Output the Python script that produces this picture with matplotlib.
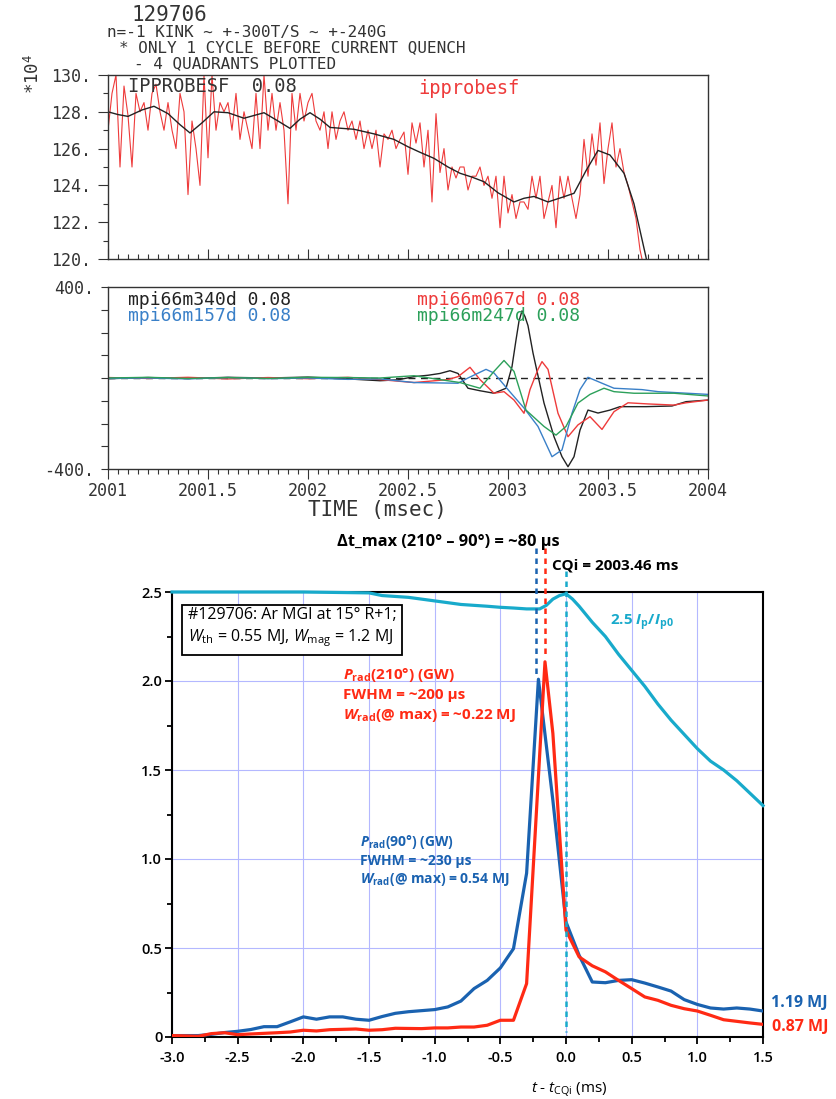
# Shot 129706: IPPROBESF, Mirnov probes and Prad vs time
import numpy as np
import matplotlib.pyplot as plt
from matplotlib.ticker import MultipleLocator

plt.rcParams['mathtext.fontset'] = 'custom'
plt.rcParams['mathtext.rm'] = 'Open Sans'
plt.rcParams['mathtext.it'] = 'Open Sans:italic'
plt.rcParams['mathtext.bf'] = 'Open Sans:bold'
plt.rcParams['mathtext.bfit'] = 'Open Sans:italic:bold'
plt.rcParams['mathtext.tt'] = 'DejaVu Sans Mono'

# ---- data: plasma current probe (x 10^4), sampled every 0.02 ms from 2001.00
ip_raw = [
    127.0, 129.0, 130.0, 125.0, 129.4, 127.8, 125.0, 129.0, 128.0, 128.5,
    127.0, 129.0, 129.5, 128.0, 127.0, 128.5, 127.0, 126.0, 129.0, 128.0,
    123.5, 127.5, 126.0, 124.0, 130.0, 125.5, 130.0, 127.0, 128.5, 128.0,
    128.5, 127.0, 129.0, 126.5, 128.0, 127.0, 126.0, 129.0, 126.0, 130.0,
    127.0, 129.0, 127.0, 128.5, 127.0, 123.0, 129.0, 127.0, 129.0, 127.5,
    128.5, 129.0, 127.5, 127.0, 128.0, 126.0, 128.0, 126.5, 127.5, 128.0,
    127.0, 127.5, 126.5, 127.5, 126.0, 127.0, 126.0, 127.0, 125.0, 126.8,
    126.5, 127.0, 126.0,
    126.5, 126.9, 124.6, 127.4, 126.3, 127.4, 125.0, 127.0, 123.1, 127.9,
    124.7, 126.0, 123.75, 125.0, 124.4, 125.0, 125.0, 123.75, 124.5, 124.5,
    125.0, 124.0, 124.5, 123.3, 124.5, 121.7, 124.5, 122.5, 123.5, 122.2,
    123.1, 123.1, 122.7, 124.5, 123.3, 124.5, 122.2, 123.1, 124.0, 121.7,
    124.5, 123.3, 124.5, 123.3, 122.2, 123.5, 126.5, 124.5, 126.8, 125.1,
    127.4, 124.1, 126.0, 127.4, 125.0, 126.0, 124.7, 124.0, 123.1, 122.2,
    120.5, 119.5,
]
ip_t = 2001.0 + 0.02 * np.arange(len(ip_raw))

# smoothed current
ip_smooth_t = [2001.00, 2001.05, 2001.10, 2001.17, 2001.23, 2001.30, 2001.36, 2001.41,
               2001.47, 2001.53, 2001.60, 2001.68, 2001.73, 2001.78, 2001.85, 2001.91,
               2001.96, 2002.01, 2002.06, 2002.11, 2002.17, 2002.23, 2002.33, 2002.43,
               2002.50, 2002.56, 2002.63, 2002.70, 2002.76, 2002.82, 2002.88, 2002.95,
               2003.03, 2003.08, 2003.13, 2003.20, 2003.27, 2003.33, 2003.39, 2003.45,
               2003.51, 2003.58, 2003.63, 2003.69, 2003.70]
ip_smooth = [128.0, 127.85, 127.75, 128.1, 128.3, 127.9, 127.3, 126.85,
             127.4, 128.0, 127.95, 127.65, 127.8, 127.95, 127.5, 127.1,
             127.6, 127.95, 127.6, 127.15, 127.1, 127.05, 126.8, 126.5,
             126.1, 125.8, 125.47, 125.0, 124.66, 124.45, 124.2, 123.6,
             123.1, 123.3, 123.4, 123.1, 123.35, 123.57, 124.8, 125.9,
             125.65, 124.66, 123.0, 120.1, 119.5]

# ---- data: Mirnov probes (T/s)
m340_t = [2001.0, 2001.2, 2001.4, 2001.6, 2001.8, 2002.0, 2002.2, 2002.36, 2002.45,
          2002.53, 2002.60, 2002.66, 2002.71, 2002.75, 2002.80, 2002.86, 2002.93,
          2002.99, 2003.02, 2003.04, 2003.055, 2003.07, 2003.085, 2003.10, 2003.125,
          2003.18, 2003.23, 2003.27, 2003.30, 2003.33, 2003.36, 2003.40, 2003.45,
          2003.51, 2003.56, 2003.69, 2003.82, 2003.89, 2004.0]
m340 = [-3, 2, -2, 3, 0, 4, -4, -12, -8,
        6, 12, 20, 32, 20, -45, -56, -67,
        -45, 50, 167, 250, 295, 270, 230, 110,
        -110, -258, -346, -390, -346, -229, -141, -154,
        -141, -126, -126, -123, -104, -97]

m067_t = [2001.0, 2001.2, 2001.4, 2001.6, 2001.8, 2002.0, 2002.2, 2002.36, 2002.53,
          2002.70, 2002.75, 2002.81, 2002.86, 2002.93, 2002.98, 2003.03, 2003.08,
          2003.11, 2003.15, 2003.17, 2003.20, 2003.25, 2003.30, 2003.35, 2003.41,
          2003.47, 2003.53, 2003.60, 2003.70, 2003.83, 2003.89, 2004.0]
m067 = [2, -2, 3, -4, 2, -3, 3, -7, -20,
        -7, 6, 47, -7, -67, -60, -97, -155,
        -51, 38, 72, 38, -155, -258, -206, -170,
        -226, -148, -109, -114, -119, -109, -97]

m157_t = [2001.0, 2001.2, 2001.4, 2001.6, 2001.8, 2002.0, 2002.2, 2002.36, 2002.53,
          2002.75, 2002.80, 2002.89, 2002.93, 2003.0, 2003.08, 2003.15, 2003.22,
          2003.27, 2003.32, 2003.36, 2003.40, 2003.47, 2003.53, 2003.67, 2003.75, 2004.0]
m157 = [-2, 0, -4, 2, -3, 0, -6, -4, -20,
        -23, 0, 38, 22, -51, -132, -213, -346,
        -316, -155, -51, 3, -23, -45, -51, -60, -72]

m247_t = [2001.0, 2001.2, 2001.4, 2001.6, 2001.8, 2002.0, 2002.2, 2002.36, 2002.53,
          2002.66, 2002.76, 2002.86, 2002.93, 2002.98, 2003.03, 2003.09, 2003.18,
          2003.24, 2003.29, 2003.35, 2003.41, 2003.48, 2003.53, 2003.63, 2003.83, 2004.0]
m247 = [0, 3, -2, 2, -2, 3, 2, 0, 10,
        -7, -20, -45, 29, 77, 29, -141, -213,
        -251, -213, -110, -72, -45, -60, -67, -67, -79]

# ---- data: bottom panel, t - t_CQi (ms)
ipn_t = [-3.0, -2.0, -1.5, -1.4, -1.2, -1.0, -0.9, -0.8, -0.7, -0.6, -0.5, -0.4,
         -0.3, -0.2, -0.15, -0.1, -0.05, 0.0, 0.05, 0.1, 0.2, 0.3, 0.4, 0.5,
         0.6, 0.7, 0.8, 0.9, 1.0, 1.1, 1.2, 1.3, 1.4, 1.5]
ipn = [2.5, 2.5, 2.495, 2.48, 2.47, 2.45, 2.44, 2.43, 2.425, 2.42, 2.414, 2.41,
       2.405, 2.405, 2.425, 2.46, 2.48, 2.49, 2.46, 2.42, 2.33, 2.25, 2.15, 2.06,
       1.97, 1.87, 1.78, 1.70, 1.62, 1.55, 1.50, 1.44, 1.37, 1.30]

p90_t = [-3.0, -2.8, -2.7, -2.6, -2.5, -2.4, -2.3, -2.2, -2.1, -2.0, -1.9, -1.8,
         -1.7, -1.6, -1.5, -1.4, -1.3, -1.2, -1.1, -1.0, -0.9, -0.8, -0.7, -0.6,
         -0.5, -0.4, -0.3, -0.21, -0.1, 0.0, 0.1, 0.2, 0.3, 0.4, 0.5, 0.6,
         0.7, 0.8, 0.9, 1.0, 1.1, 1.2, 1.3, 1.4, 1.5]
p90 = [0.008, 0.008, 0.015, 0.025, 0.032, 0.042, 0.058, 0.058, 0.085, 0.113, 0.10, 0.113,
       0.113, 0.10, 0.094, 0.115, 0.133, 0.142, 0.148, 0.154, 0.169, 0.202, 0.272, 0.318,
       0.388, 0.496, 0.92, 2.01, 1.33, 0.646, 0.459, 0.309, 0.305, 0.318, 0.322, 0.303,
       0.281, 0.258, 0.21, 0.183, 0.163, 0.157, 0.163, 0.157, 0.146]

p210_t = [-3.0, -2.8, -2.7, -2.6, -2.5, -2.4, -2.2, -2.1, -2.0, -1.9, -1.8, -1.6,
          -1.5, -1.4, -1.3, -1.1, -1.0, -0.9, -0.8, -0.7, -0.6, -0.5, -0.4, -0.3,
          -0.16, -0.1, 0.0, 0.1, 0.2, 0.3, 0.4, 0.5, 0.6, 0.7, 0.8, 0.9,
          1.0, 1.1, 1.2, 1.3, 1.4, 1.5]
p210 = [0.008, 0.004, 0.019, 0.024, 0.013, 0.017, 0.024, 0.028, 0.038, 0.034, 0.041, 0.045,
        0.038, 0.041, 0.049, 0.047, 0.051, 0.051, 0.056, 0.056, 0.066, 0.094, 0.094, 0.30,
        2.108, 1.706, 0.60, 0.45, 0.40, 0.366, 0.318, 0.272, 0.225, 0.206, 0.178, 0.159,
        0.146, 0.122, 0.097, 0.088, 0.079, 0.071]

t_max90 = -0.225
t_max210 = -0.16
t_cqi = 0.0

# colours
GREY = '#333333'
RED_TOP = '#ee3b3b'
BLUE_TOP = '#3a80c8'
GREEN_TOP = '#2ca05a'
RED = '#ff2a14'
BLUE = '#1a62b0'
CYAN = '#18aacb'
GRID = '#b4b8ff'

W, H = 836, 1099


def fx(px):
    return px / W


def fy(py):
    return 1 - py / H


mono = 'DejaVu Sans Mono'
sans = 'Open Sans'

fig = plt.figure(figsize=(W / 100, H / 100), dpi=100)

# header text
fig.text(fx(132), fy(15), '129706', family=mono, fontsize=15, color=GREY, va='center')
fig.text(fx(107), fy(32), 'n=-1 KINK ~ +-300T/S ~ +-240G', family=mono, fontsize=11.5,
         color=GREY, va='center')
fig.text(fx(119), fy(48), '* ONLY 1 CYCLE BEFORE CURRENT QUENCH', family=mono,
         fontsize=11.5, color=GREY, va='center')
fig.text(fx(134), fy(64), '- 4 QUADRANTS PLOTTED', family=mono, fontsize=11.5,
         color=GREY, va='center')
fig.text(fx(33), fy(74), r'*10$^{\mathtt{4}}$', family=mono, fontsize=12.5, color=GREY,
         rotation=90, ha='center', va='center')

# ---- top panel
ax1 = fig.add_axes([fx(108), fy(259), 600 / W, 184 / H])
ax1.plot(ip_t, ip_raw, color=RED_TOP, lw=0.8)
ax1.plot(ip_smooth_t, ip_smooth, color='#222222', lw=1.0)
ax1.set_xlim(2001, 2004)
ax1.set_ylim(120, 130)
ax1.xaxis.set_major_locator(MultipleLocator(0.5))
ax1.xaxis.set_minor_locator(MultipleLocator(0.05))
ax1.tick_params(axis='x', which='major', direction='in', length=7, width=0.8,
                color=GREY, labelbottom=False)
ax1.tick_params(axis='x', which='minor', direction='in', length=3.5, width=0.8, color=GREY)
ax1.set_yticks(np.arange(120, 131, 2))
ax1.set_yticklabels([f'{v}.' for v in range(120, 131, 2)])
ax1.yaxis.set_minor_locator(MultipleLocator(1))
ax1.tick_params(axis='y', which='major', direction='out', length=7, width=0.8,
                color=GREY, labelsize=12, labelcolor=GREY, pad=5)
ax1.tick_params(axis='y', which='minor', direction='out', length=3.5, width=0.8, color=GREY)
for lab in ax1.get_yticklabels():
    lab.set_family(mono)
for sp in ax1.spines.values():
    sp.set_color(GREY)
    sp.set_linewidth(1.0)
fig.text(fx(128), fy(87), 'IPPROBESF  0.08', family=mono, fontsize=13.5, color=GREY,
         va='center')
fig.text(fx(418), fy(88), 'ipprobesf', family=mono, fontsize=13.5, color=RED_TOP,
         va='center')

# ---- middle panel
ax2 = fig.add_axes([fx(108), fy(469), 600 / W, 182 / H])
ax2.axhline(0, color='#222222', lw=1.0, ls=(0, (5, 4)))
ax2.plot(m340_t, m340, color='#222222', lw=1.0)
ax2.plot(m067_t, m067, color=RED_TOP, lw=1.0)
ax2.plot(m157_t, m157, color=BLUE_TOP, lw=1.0)
ax2.plot(m247_t, m247, color=GREEN_TOP, lw=1.0)
ax2.set_xlim(2001, 2004)
ax2.set_ylim(-400, 400)
ax2.set_xticks([2001, 2001.5, 2002, 2002.5, 2003, 2003.5, 2004])
ax2.set_xticklabels(['2001', '2001.5', '2002', '2002.5', '2003', '2003.5', '2004'])
ax2.xaxis.set_minor_locator(MultipleLocator(0.05))
ax2.tick_params(axis='x', which='major', direction='out', length=7, width=0.8,
                color=GREY, labelsize=12, labelcolor=GREY, pad=2)
ax2.tick_params(axis='x', which='minor', direction='out', length=3.5, width=0.8, color=GREY)
ax2.set_yticks(np.arange(-400, 401, 100))
ax2.set_yticklabels(['-400.', '', '', '', '', '', '', '', '400.'])
ax2.tick_params(axis='y', direction='out', length=5, width=0.8, color=GREY,
                labelsize=12, labelcolor=GREY, pad=5)
for lab in ax2.get_xticklabels() + ax2.get_yticklabels():
    lab.set_family(mono)
for sp in ax2.spines.values():
    sp.set_color(GREY)
    sp.set_linewidth(1.0)
fig.text(fx(377), fy(510), 'TIME (msec)', family=mono, fontsize=15, color=GREY,
         ha='center', va='center')
fig.text(fx(128), fy(300), 'mpi66m340d 0.08', family=mono, fontsize=13, color='#222222',
         va='center')
fig.text(fx(128), fy(316), 'mpi66m157d 0.08', family=mono, fontsize=13, color=BLUE_TOP,
         va='center')
fig.text(fx(417), fy(300), 'mpi66m067d 0.08', family=mono, fontsize=13, color=RED_TOP,
         va='center')
fig.text(fx(417), fy(316), 'mpi66m247d 0.08', family=mono, fontsize=13, color=GREEN_TOP,
         va='center')

# ---- bottom panel
ax3 = fig.add_axes([fx(172), fy(1037), 591 / W, 445 / H])
ax3.set_xlim(-3, 1.5)
ax3.set_ylim(0, 2.5)
ax3.xaxis.set_major_locator(MultipleLocator(0.5))
ax3.xaxis.set_minor_locator(MultipleLocator(0.25))
ax3.yaxis.set_major_locator(MultipleLocator(0.5))
ax3.yaxis.set_minor_locator(MultipleLocator(0.25))
ax3.grid(True, which='major', color=GRID, lw=0.8)
ax3.set_axisbelow(True)
ax3.set_xticklabels([f'{v:.1f}' for v in ax3.get_xticks()])
ax3.set_yticks([0, 0.5, 1.0, 1.5, 2.0, 2.5])
ax3.set_yticklabels(['0', '0.5', '1.0', '1.5', '2.0', '2.5'])
ax3.tick_params(which='major', direction='out', length=5, width=1.3, labelsize=10.5)
ax3.tick_params(which='minor', direction='out', length=3.5, width=1.3)
ax3.tick_params(axis='y', pad=2)
ax3.tick_params(axis='x', pad=5)
for lab in ax3.get_xticklabels() + ax3.get_yticklabels():
    lab.set_family(sans)
    lab.set_fontweight('semibold')
for sp in ax3.spines.values():
    sp.set_color('black')
    sp.set_linewidth(1.5)

ax3.plot(ipn_t, ipn, color=CYAN, lw=2.3, clip_on=False, zorder=3)
ax3.plot(p90_t, p90, color=BLUE, lw=2.3, zorder=4)
ax3.plot(p210_t, p210, color=RED, lw=2.3, zorder=5)

# time markers
ax3.plot([t_max90, t_max90], [2.75, 2.04], color=BLUE, lw=1.8, ls=(0, (2.2, 1.8)),
         clip_on=False, zorder=6)
ax3.plot([t_max210, t_max210], [2.75, 2.14], color=RED, lw=1.8, ls=(0, (2.2, 1.8)),
         clip_on=False, zorder=6)
ax3.plot([t_cqi, t_cqi], [2.62, 0.03], color=CYAN, lw=1.8, ls=(0, (2.2, 1.8)),
         clip_on=False, zorder=6)

fig.text(fx(448), fy(542), 'Δt_max (210° – 90°) = ~80 µs', family=sans, fontsize=11.8,
         fontweight='bold', ha='center', va='center')
fig.text(fx(552), fy(566), 'CQi = 2003.46 ms', family=sans, fontsize=11,
         fontweight='bold', va='center')
fig.text(fx(188), fy(628),
         '#129706: Ar MGI at 15° R+1;\n'
         r'$\mathit{W}_{\mathrm{th}}$ = 0.55 MJ, $\mathit{W}_{\mathrm{mag}}$ = 1.2 MJ',
         family=sans, fontsize=11.5, va='center', linespacing=1.3,
         bbox=dict(boxstyle='square,pad=0.35', fc='white', ec='black', lw=1.3))
fig.text(fx(610), fy(623), r'2.5 $\mathbfit{I}_{\mathbf{p}}$/$\mathbfit{I}_{\mathbf{p0}}$',
         family=sans, fontsize=11, fontweight='bold', color=CYAN, va='center')

fig.text(fx(343), fy(675), r'$\mathbfit{P}_{\mathbf{rad}}$(210°) (GW)', family=sans,
         fontsize=11, fontweight='bold', color=RED, va='center')
fig.text(fx(343), fy(695), 'FWHM = ~200 µs', family=sans, fontsize=11,
         fontweight='bold', color=RED, va='center')
fig.text(fx(343), fy(715), r'$\mathbfit{W}_{\mathbf{rad}}$(@ max) = ~0.22 MJ', family=sans,
         fontsize=11, fontweight='bold', color=RED, va='center')

fig.text(fx(360), fy(842), r'$\mathbfit{P}_{\mathbf{rad}}$(90°) (GW)', family=sans,
         fontsize=10, fontweight='bold', color=BLUE, va='center')
fig.text(fx(360), fy(861), 'FWHM = ~230 µs', family=sans, fontsize=10,
         fontweight='bold', color=BLUE, va='center')
fig.text(fx(360), fy(879), r'$\mathbfit{W}_{\mathbf{rad}}$(@ max) = 0.54 MJ', family=sans,
         fontsize=10, fontweight='bold', color=BLUE, va='center')

fig.text(fx(771), fy(1003), '1.19 MJ', family=sans, fontsize=11.5, fontweight='bold',
         color=BLUE, va='center')
fig.text(fx(772), fy(1027), '0.87 MJ', family=sans, fontsize=11.5, fontweight='bold',
         color=RED, va='center')

fig.text(fx(569), fy(1090), r'$\mathit{t}$ - $\mathit{t}_{\mathrm{CQi}}$ (ms)', family=sans,
         fontsize=11, ha='center', va='center')

fig.savefig('out.png', dpi=100)
